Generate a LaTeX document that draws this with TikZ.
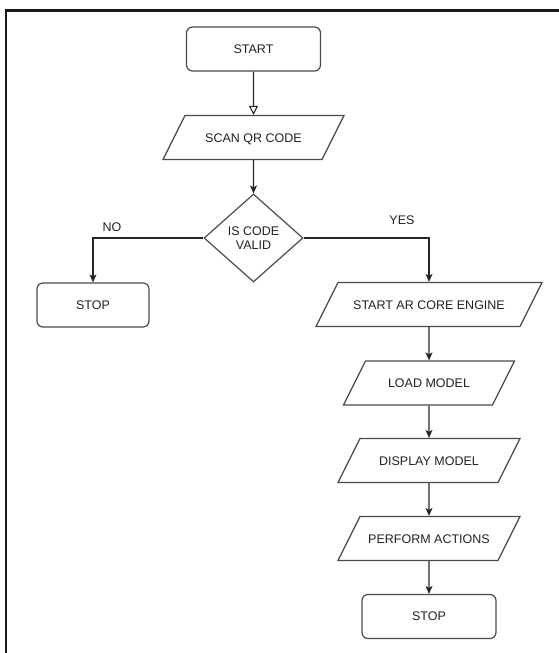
\documentclass[tikz,border=0pt]{standalone}
\usepackage{fontspec}
\setmainfont{Liberation Sans}
\usetikzlibrary{shapes,shapes.geometric,arrows.meta,positioning}
\definecolor{edgegray}{HTML}{4A4A4A}
\definecolor{textgray}{HTML}{222222}
\tikzset{
  termbox/.style={rectangle, rounded corners=6pt, draw=edgegray, line width=1.2pt, fill=white, minimum width=134pt, minimum height=44pt, inner sep=0pt, font=\fontsize{12.5}{14}\selectfont, text=textgray},
  iobox/.style={trapezium, trapezium left angle=63.4, trapezium right angle=116.6, trapezium stretches body, draw=edgegray, line width=1.2pt, fill=white, text height=9pt, text depth=0pt, inner ysep=17.5pt, inner xsep=0pt, font=\fontsize{12.5}{14}\selectfont, text=textgray},
  decision/.style={diamond, draw=edgegray, line width=1.2pt, fill=white, minimum width=99pt, minimum height=88pt, inner sep=0pt, align=center, font=\fontsize{12.5}{14}\selectfont, text=textgray},
  flowline/.style={draw=black!85, line width=1.1pt, -{Stealth[length=8pt, width=7pt, inset=2pt]}},
  lbl/.style={font=\fontsize{12.5}{14}\selectfont, text=textgray}
}

\begin{document}
\begin{tikzpicture}[x=1pt, y=-1pt]
  \useasboundingbox (0,0) rectangle (558,653);
  % outer frame
  \draw[line width=2.6pt, black!90] (6,660) -- (6,10.5) -- (565,10.5);

  \node[termbox] (start) at (253.5,49) {START};
  \node[iobox, minimum width=181pt] (scan) at (253.5,137.5) {SCAN QR CODE};
  \node[decision] (valid) at (253.5,238) {IS CODE\\VALID};
  \node[termbox, minimum width=112pt] (stopno) at (93,305) {STOP};
  \node[iobox, minimum width=226pt] (engine) at (429,304.5) {START AR CORE ENGINE};
  \node[iobox, minimum width=171pt] (load) at (429,383) {LOAD MODEL};
  \node[iobox, minimum width=182pt] (display) at (429,460.5) {DISPLAY MODEL};
  \node[iobox, minimum width=182pt] (perform) at (429,538.5) {PERFORM ACTIONS};
  \node[termbox] (stopyes) at (429,616.5) {STOP};

  \node[lbl] (nolbl) at (112,227) {NO};
  \node[lbl] (yeslbl) at (402,220) {YES};

  \draw[draw=black!85, line width=1.1pt, -{Triangle[open, length=9pt, width=9pt]}] (start) -- (scan);
  \draw[flowline] (scan) -- (valid);
  \draw[flowline] (valid.west) -| (stopno.north);
  \draw[flowline] (valid.east) -| (engine.north);
  \draw[flowline] (engine) -- (load);
  \draw[flowline] (load) -- (display);
  \draw[flowline] (display) -- (perform);
  \draw[flowline] (perform) -- (stopyes);
\end{tikzpicture}
\end{document}
